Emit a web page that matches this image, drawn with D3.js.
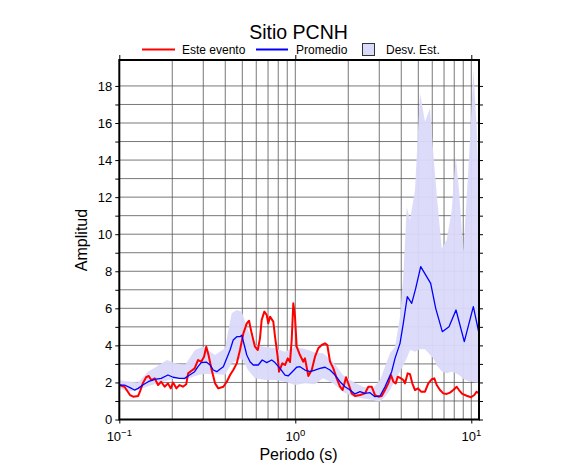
<!DOCTYPE html>
<html><head><meta charset="utf-8">
<script src="https://cdn.jsdelivr.net/npm/d3@7"></script>
<style>body{margin:0;background:#fff}svg{display:block;font-family:"Liberation Sans",Arial,sans-serif}</style>
</head><body>
<svg id="c" width="586" height="475"></svg>
<script>
// ---- data ----
const title = "Sitio PCNH";
const legendLabels = ["Este evento", "Promedio", "Desv. Est."];
const xTickValues = [0.1, 1, 10];
const xTickExps = ["\u22121", "0", "1"];
const yTickValues = [0,1,2,3,4,5,6,7,8,9,10,11,12,13,14,15,16,17,18];

// this event (red): period (s), amplitude
const redPeriod = [0.100,0.107,0.115,0.120,0.128,0.131,0.136,0.142,0.147,0.152,0.159,0.166,0.173,0.181,0.189,0.196,0.202,0.211,0.220,0.230,0.240,0.246,0.257,0.268,0.280,0.292,0.303,0.312,0.321,0.335,0.350,0.365,0.390,0.408,0.426,0.444,0.465,0.485,0.507,0.530,0.546,0.565,0.590,0.612,0.630,0.644,0.667,0.688,0.702,0.718,0.750,0.767,0.794,0.808,0.844,0.874,0.906,0.933,0.954,0.974,0.996,1.018,1.063,1.110,1.135,1.186,1.240,1.294,1.351,1.413,1.475,1.520,1.575,1.644,1.719,1.795,1.859,1.942,2.000,2.092,2.184,2.332,2.489,2.599,2.717,2.837,2.962,3.097,3.233,3.376,3.498,3.605,3.720,3.818,3.987,4.108,4.201,4.351,4.485,4.622,4.787,4.980,5.179,5.457,5.698,5.957,6.163,6.360,6.640,6.933,7.248,7.568,7.902,8.260,8.513,8.889,9.417,9.960,10.40,10.73,11.06];
const redAmp = [1.86,1.77,1.32,1.23,1.27,1.50,1.95,2.28,2.35,2.13,2.22,1.86,2.04,1.77,1.95,1.68,1.99,1.68,1.86,1.77,1.90,2.49,2.63,2.76,3.21,3.12,3.39,3.93,3.50,2.67,1.95,1.68,1.77,2.04,2.40,2.67,3.03,3.75,4.65,5.19,5.33,4.65,3.93,3.75,4.38,5.37,5.82,5.64,5.19,5.55,5.28,4.47,3.39,2.58,3.03,2.94,3.30,3.10,4.29,6.27,5.55,3.93,3.48,3.12,3.30,2.35,2.67,3.39,3.84,4.02,4.11,4.02,3.12,2.76,2.22,1.77,1.59,2.28,1.95,1.41,1.27,1.32,1.41,1.77,1.77,1.32,1.23,1.27,1.59,1.95,2.40,2.04,1.95,2.31,2.22,2.13,1.95,2.49,2.44,1.95,1.59,1.68,1.50,1.50,1.95,2.17,2.22,1.86,1.59,1.41,1.38,1.45,1.59,1.77,1.59,1.38,1.28,1.20,1.32,1.50,1.41];

// mean (blue)
const meanPeriod = [0.100,0.107,0.115,0.122,0.128,0.136,0.146,0.159,0.173,0.189,0.202,0.220,0.235,0.251,0.268,0.280,0.292,0.312,0.328,0.342,0.358,0.373,0.390,0.408,0.426,0.444,0.465,0.485,0.496,0.513,0.530,0.553,0.577,0.616,0.649,0.688,0.734,0.767,0.819,0.874,0.913,0.962,1.018,1.063,1.135,1.212,1.294,1.381,1.475,1.575,1.681,1.795,1.916,2.046,2.184,2.332,2.489,2.657,2.837,3.029,3.233,3.529,3.686,3.935,4.108,4.328,4.586,4.832,5.159,5.878,6.277,6.843,7.469,8.188,9.125,10.27,11.06];
const meanAmp = [1.86,1.86,1.72,1.59,1.68,1.86,2.04,2.17,2.22,2.40,2.28,2.22,2.22,2.40,2.58,2.85,3.07,3.10,2.94,2.67,2.58,2.71,2.85,3.30,3.75,4.29,4.47,4.47,4.55,4.02,3.48,3.12,2.94,2.94,3.21,3.07,3.21,3.07,2.76,2.40,2.36,2.58,2.82,2.85,2.67,2.58,2.67,2.76,2.82,2.67,2.40,2.04,1.77,1.59,1.38,1.50,1.41,1.45,1.23,1.27,1.77,2.58,3.30,4.11,5.19,6.63,6.27,7.08,8.25,7.35,6.00,4.74,5.01,5.91,4.20,6.09,4.65];

// standard deviation band
const bandPeriod = [0.1000,0.1121,0.1277,0.1456,0.1659,0.1866,0.2073,0.2362,0.2692,0.2989,0.3498,0.3986,0.4351,0.4645,0.4961,0.5387,0.5902,0.6727,0.7668,0.8741,0.9961,1.135,1.294,1.437,1.638,1.866,2.128,2.425,2.764,3.029,3.233,3.452,3.686,3.935,4.108,4.295,4.485,4.787,5.112,5.457,5.824,6.082,6.385,6.789,7.248,7.738,8.156,8.513,9.006,9.417,9.830,10.27,10.73,11.06];
const bandUpper = [2.13,2.05,2.00,2.58,2.90,3.21,3.03,2.94,3.75,3.93,3.48,3.84,5.73,5.91,5.82,4.83,4.02,3.93,3.84,3.66,3.93,3.80,3.62,3.57,3.12,2.40,2.04,1.77,1.68,2.13,2.85,3.57,3.93,5.55,7.70,11.48,10.77,12.38,17.60,16.07,16.80,14.37,12.00,9.24,9.69,11.30,14.18,12.38,9.06,12.00,15.08,18.86,15.80,12.50];
const bandLower = [1.68,1.50,1.59,1.80,1.95,2.10,2.22,2.13,2.35,2.45,2.45,2.40,3.03,3.20,3.30,2.67,2.22,2.13,2.13,2.04,1.86,1.95,1.90,2.22,1.95,1.50,1.23,1.14,1.05,0.96,1.23,1.59,2.10,2.60,2.90,3.30,3.75,3.66,3.79,3.79,3.50,3.30,2.90,2.60,2.49,2.58,2.50,2.40,2.20,2.10,2.05,2.03,2.00,1.99];

// ---- chart ----
const svg = d3.select("#c");
const L = 119.3, R = 479, T = 60, B = 419.5;
const x = d3.scaleLog().domain([0.1, 11.06]).range([L, R]);
const y = d3.scaleLinear().domain([0, 19.4]).range([B, T]);

svg.append("defs").append("clipPath").attr("id","clip")
  .append("rect").attr("x",L).attr("y",T).attr("width",R-L).attr("height",B-T);

// grid
const gridX = [];
[0.1,1,10].forEach(d => { for (let k=1;k<=9;k++){ const v=d*k; if (v>0.1 && v<11.06) gridX.push(v);} });
const grid = svg.append("g").attr("stroke","#555").attr("stroke-width",0.8);
grid.selectAll("line.gx").data(gridX).join("line")
  .attr("x1",d=>x(d)).attr("x2",d=>x(d)).attr("y1",T).attr("y2",B);
grid.selectAll("line.gy").data(yTickValues.filter(d=>d>0)).join("line")
  .attr("x1",L).attr("x2",R).attr("y1",d=>y(d)).attr("y2",d=>y(d));

const plot = svg.append("g").attr("clip-path","url(#clip)");
const band = bandPeriod.map((p,i)=>({p, lo:bandLower[i], hi:bandUpper[i]}));
plot.append("path").datum(band)
  .attr("fill","#dadafa").attr("stroke","none").attr("opacity",0.95)
  .attr("d", d3.area().x(d=>x(d.p)).y0(d=>y(d.lo)).y1(d=>y(d.hi)));

const red = redPeriod.map((p,i)=>({p, a:redAmp[i]}));
const mean = meanPeriod.map((p,i)=>({p, a:meanAmp[i]}));
const line = d3.line().x(d=>x(d.p)).y(d=>y(d.a));
plot.append("path").datum(red).attr("fill","none").attr("stroke","#ff0000")
  .attr("stroke-width",2).attr("stroke-linejoin","round").attr("d",line);
plot.append("path").datum(mean).attr("fill","none").attr("stroke","#0000ff")
  .attr("stroke-width",1.3).attr("stroke-linejoin","round").attr("d",line);

// axes
const yl = svg.append("g").attr("transform",`translate(${L},0)`)
  .call(d3.axisLeft(y).tickValues(yTickValues).tickSize(4).tickPadding(3)
    .tickFormat(d=> d%2===0 ? d : ""));
const yr = svg.append("g").attr("transform",`translate(${R},0)`)
  .call(d3.axisRight(y).tickValues(yTickValues).tickSize(4).tickFormat(""));
const xb = svg.append("g").attr("transform",`translate(0,${B})`)
  .call(d3.axisBottom(x).tickValues(xTickValues).tickSize(4).tickFormat(""));
const xt = svg.append("g").attr("transform",`translate(0,${T})`)
  .call(d3.axisTop(x).tickValues(xTickValues).tickSize(5).tickFormat(""));
[yl,yr,xb,xt].forEach(g=>{
  g.select(".domain").remove();
  g.selectAll(".tick line").attr("stroke","#000").attr("stroke-width",1);
});
yl.selectAll(".tick text").attr("font-size",13).attr("fill","#000")
  .attr("font-family","Liberation Sans, Arial, sans-serif");

// x tick labels with superscripts
const xl = svg.append("g").attr("font-size",13).attr("fill","#000");
xTickValues.forEach((v,i)=>{
  const t = xl.append("text").attr("x",x(v)).attr("y",441).attr("text-anchor","middle");
  t.append("tspan").text("10");
  t.append("tspan").attr("dy",-5).attr("font-size",9.5).text(xTickExps[i]);
});

// frame
svg.append("rect").attr("x",L).attr("y",T).attr("width",R-L).attr("height",B-T)
  .attr("fill","none").attr("stroke","#000").attr("stroke-width",2);

// labels
svg.append("text").attr("x",298.5).attr("y",39).attr("text-anchor","middle")
  .attr("font-size",19.5).text(title);
svg.append("text").attr("x",298.5).attr("y",460).attr("text-anchor","middle")
  .attr("font-size",16).text("Periodo (s)");
svg.append("text").attr("transform","translate(87,240) rotate(-90)")
  .attr("text-anchor","middle").attr("font-size",16).text("Amplitud");

// legend
const lg = svg.append("g").attr("font-size",12);
lg.append("line").attr("x1",142).attr("x2",175).attr("y1",49.5).attr("y2",49.5)
  .attr("stroke","#ff0000").attr("stroke-width",2);
lg.append("text").attr("x",182).attr("y",54).text(legendLabels[0]);
lg.append("line").attr("x1",256).attr("x2",288).attr("y1",49.5).attr("y2",49.5)
  .attr("stroke","#0000ff").attr("stroke-width",2);
lg.append("text").attr("x",296).attr("y",54).text(legendLabels[1]);
lg.append("rect").attr("x",362.5).attr("y",43.5).attr("width",12).attr("height",12)
  .attr("fill","#dadafa").attr("stroke","#333").attr("stroke-width",1);
lg.append("text").attr("x",386).attr("y",54).text(legendLabels[2]);
</script>
</body></html>
